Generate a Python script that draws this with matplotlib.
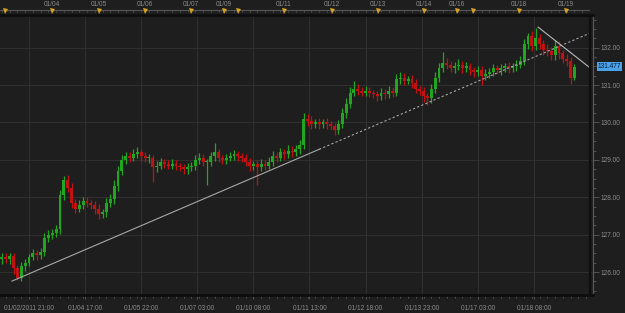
import matplotlib
matplotlib.use("Agg")
import matplotlib.pyplot as plt
import numpy as np
from matplotlib.ticker import FixedLocator, MultipleLocator, FuncFormatter

plt.rcParams["font.family"] = ["Liberation Sans", "DejaVu Sans"]

# --- data (2-hour candles, USD/JPY-style quotes) ---
first_open = 126.35
closes = [
    126.40, 126.35, 126.42, 126.10, 125.85, 126.15, 126.25, 126.40, 126.50, 126.45,
    126.55, 126.90, 127.00, 127.05, 127.15, 128.05, 128.45, 128.25, 127.85, 127.70,
    127.80, 127.90, 127.85, 127.80, 127.70, 127.55, 127.60, 127.85, 127.95, 128.30,
    128.70, 129.00, 129.10, 129.05, 129.15, 129.20, 129.10, 129.05, 129.05, 128.80,
    128.85, 128.95, 128.90, 128.85, 128.90, 128.85, 128.80, 128.75, 128.80, 128.85,
    129.00, 129.05, 128.95, 128.95, 129.10, 129.20, 129.05, 129.00, 129.05, 129.10,
    129.15, 129.10, 129.05, 128.95, 128.85, 128.90, 128.80, 128.90, 128.85, 128.95,
    129.10, 129.05, 129.20, 129.15, 129.25, 129.20, 129.30, 129.40, 130.10, 130.05,
    129.95, 130.00, 129.95, 130.00, 129.95, 129.90, 129.80, 129.95, 130.25, 130.50,
    130.80, 130.90, 130.85, 130.80, 130.85, 130.80, 130.75, 130.70, 130.80, 130.75,
    130.85, 130.80, 131.15, 131.20, 131.10, 131.15, 131.05, 130.90, 130.85, 130.70,
    130.65, 130.90, 131.20, 131.45, 131.60, 131.55, 131.45, 131.50, 131.55, 131.45,
    131.50, 131.40, 131.35, 131.40, 131.25, 131.30, 131.35, 131.45, 131.40, 131.45,
    131.50, 131.45, 131.50, 131.55, 131.65, 132.10, 132.30, 132.05, 132.25, 132.10,
    131.95, 131.90, 131.80, 132.05, 131.85, 131.70, 131.65, 131.20, 131.477,
]
# wick lengths in pips (0.01)
upper_wick = [
    10, 12, 8, 10, 8, 12, 10, 8, 12, 10,
    10, 14, 12, 10, 12, 15, 12, 14, 12, 10,
    12, 10, 12, 8, 10, 12, 10, 12, 14, 15,
    14, 12, 10, 12, 14, 15, 10, 12, 10, 8,
    12, 10, 8, 10, 12, 10, 8, 10, 12, 10,
    12, 14, 10, 8, 12, 25, 10, 8, 12, 10,
    12, 10, 8, 12, 10, 8, 10, 12, 10, 12,
    14, 10, 12, 10, 14, 12, 10, 14, 15, 14,
    12, 10, 12, 10, 12, 10, 8, 12, 14, 15,
    14, 20, 12, 10, 12, 10, 8, 10, 12, 10,
    12, 10, 15, 14, 12, 10, 12, 10, 8, 10,
    10, 14, 15, 14, 28, 12, 10, 12, 14, 10,
    12, 10, 8, 12, 10, 12, 10, 12, 10, 12,
    10, 12, 10, 12, 14, 12, 10, 14, 28, 12,
    10, 14, 12, 15, 12, 10, 12, 10, 8,
]
lower_wick = [
    12, 10, 12, 14, 7, 10, 12, 10, 8, 12,
    10, 12, 10, 12, 10, 14, 12, 10, 14, 12,
    10, 12, 10, 12, 14, 12, 10, 12, 10, 12,
    12, 10, 12, 10, 8, 10, 12, 10, 12, 39,
    12, 10, 12, 10, 8, 12, 10, 14, 12, 10,
    12, 10, 12, 62, 10, 12, 10, 12, 10, 8,
    10, 12, 10, 12, 14, 12, 47, 10, 12, 10,
    12, 10, 8, 12, 10, 12, 10, 14, 12, 14,
    12, 10, 12, 10, 12, 10, 14, 12, 10, 12,
    12, 10, 12, 10, 8, 12, 10, 12, 10, 12,
    10, 12, 10, 12, 10, 8, 12, 10, 12, 14,
    18, 12, 10, 12, 10, 12, 10, 12, 10, 12,
    10, 12, 14, 10, 25, 12, 10, 12, 10, 12,
    10, 12, 10, 12, 10, 12, 14, 15, 12, 14,
    15, 12, 14, 12, 14, 12, 14, 16, 6,
]

x_labels = ["01/02/2011 21:00", "01/04 17:00", "01/05 22:00", "01/07 03:00",
            "01/10 08:00", "01/11 13:00", "01/12 18:00", "01/13 23:00",
            "01/17 03:00", "01/18 08:00"]
day_marks = [-12.4, 11.9, 36.2, 60.0, 83.8, 100.8, 108.1, 131.9, 156.7,
             180.5, 204.2, 221.3, 229.6, 253.4, 277.7]
day_labels = ["", "01/04", "01/05", "01/06", "01/07", "01/09", "", "01/11",
              "01/12", "01/13", "01/14", "01/16", "", "01/18", "01/19"]
price_levels = [126, 127, 128, 129, 130, 131, 132]
last_price = "131.477"

trend_up_x = [-8.8, 290.1]
trend_up_y = [125.76, 132.39]
trend_up_solid_to = 150.0
trend_down_x = [263.2, 290.1]
trend_down_y = [132.55, 131.46]

# --- styling ---
BG = "#1e1e1e"
GRID = "#303030"
TXT = "#8c8c8c"
UP = "#22a622"
DOWN = "#c01212"
FS = 4.7
W, H = 625, 313


def rect(x0, y0, x1, y1):
    return [x0 / W, 1 - y1 / H, (x1 - x0) / W, (y1 - y0) / H]


closes = np.array(closes)
opens = np.concatenate([[first_open], closes[:-1]])
highs = np.maximum(opens, closes) + np.array(upper_wick) / 100
lows = np.minimum(opens, closes) - np.array(lower_wick) / 100
hours = np.arange(len(closes)) * 2 - 14
colors = np.where(closes >= opens, UP, DOWN)

fig = plt.figure(figsize=(6.25, 3.13), dpi=100)
fig.patch.set_facecolor(BG)

ax = fig.add_axes(rect(0, 15, 593, 295))
ax.set_facecolor(BG)
ax.set_xlim(-15.0, 291.6)
ax.set_ylim(125.388, 132.874)

grid_hours = np.arange(len(x_labels)) * 29
for h in grid_hours:
    ax.axvline(h, color=GRID, lw=0.8, zorder=0)
for p in price_levels:
    ax.axhline(p, color=GRID, lw=0.8, zorder=0)

ax.vlines(hours, lows, highs, colors=colors, lw=0.9, zorder=2)
body = np.maximum(np.abs(closes - opens), 0.03)
ax.bar(hours, body, bottom=np.minimum(opens, closes), width=1.5,
       color=colors, linewidth=0, zorder=3)

# trendlines
tx = np.array(trend_up_x)
ty = np.array(trend_up_y)
y_split = np.interp(trend_up_solid_to, tx, ty)
ax.plot([tx[0], trend_up_solid_to], [ty[0], y_split], color="#a8a8a8", lw=0.8, zorder=4)
ax.plot([trend_up_solid_to, tx[1]], [y_split, ty[1]], color="#a8a8a8", lw=0.8,
        ls=(0, (2, 2)), zorder=4)
ax.plot(trend_down_x, trend_down_y, color="#b8b8b8", lw=0.8, zorder=4)

ax.axvline(290.0, color="#0e0e0e", lw=1.6, zorder=5)

ax.spines["left"].set_visible(False)
ax.spines["top"].set_color("#0e0e0e")
ax.spines["top"].set_linewidth(2)
ax.spines["bottom"].set_color("#0e0e0e")
ax.spines["bottom"].set_linewidth(2)
ax.spines["right"].set_color("#5a5a5a")
ax.spines["right"].set_linewidth(0.8)

ax.xaxis.set_major_locator(FixedLocator(grid_hours))
ax.set_xticklabels(x_labels)
ax.xaxis.set_minor_locator(MultipleLocator(4))
ax.tick_params(axis="x", which="major", colors="#5a5a5a", length=3, width=0.6,
               labelsize=FS, labelcolor=TXT, pad=4)
ax.tick_params(axis="x", which="minor", colors="#5a5a5a", length=2, width=0.6)

ax.yaxis.tick_right()
ax.yaxis.set_major_locator(FixedLocator(price_levels))
ax.yaxis.set_major_formatter(FuncFormatter(lambda v, _: f"{v:.2f}"))
ax.yaxis.set_minor_locator(MultipleLocator(0.25))
ax.tick_params(axis="y", which="major", colors="#5a5a5a", length=4, width=0.6,
               labelsize=FS, labelcolor=TXT, pad=1.5)
ax.tick_params(axis="y", which="minor", colors="#5a5a5a", length=2, width=0.6)

# top date ruler
top = fig.add_axes(rect(0, 0, 590, 15))
top.set_xlim(-15.0, 291.6 * 590 / 593 + (-15.0) * (1 - 590 / 593))
top.set_ylim(15, 0)
top.axis("off")
top.plot([-15, 290], [9.5, 9.5], color="#555555", lw=0.8)
top.vlines(np.arange(-14, 290, 4), 9.5, 11.5, color="#555555", lw=0.6)
top.plot(day_marks, [11.2] * len(day_marks), ls="none", marker="v",
         markersize=3.6, color="#d7a21e", markeredgewidth=0)
for h, lab in zip(day_marks, day_labels):
    if lab:
        top.text(h, 4.6, lab, ha="center", va="center", fontsize=FS, color=TXT)

fig.text(598 / W, 1 - 66.7 / H, last_price, ha="left", va="center", fontsize=FS,
         color="#0b1a33",
         bbox=dict(boxstyle="square,pad=0.15", fc="#4aa3ea", ec="none"))

fig.savefig("out.png", dpi=100, facecolor=BG)
